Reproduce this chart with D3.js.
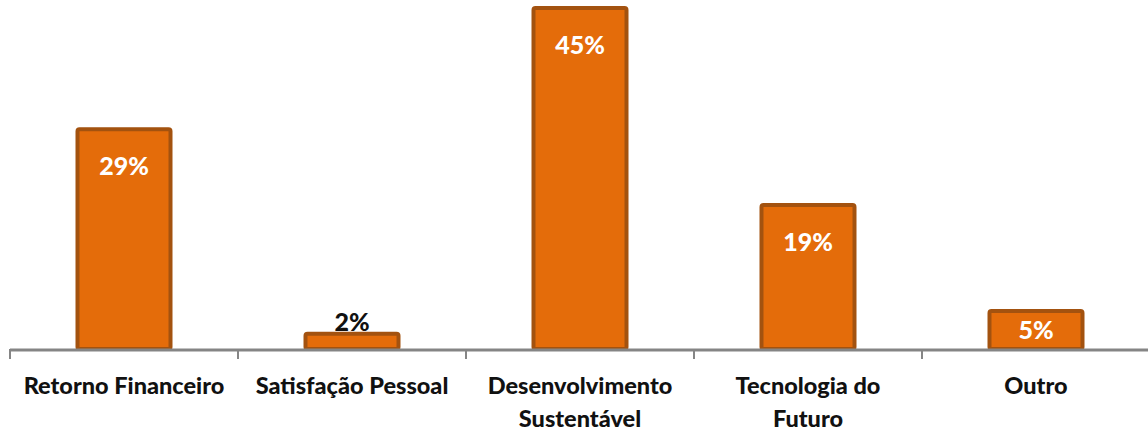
<!DOCTYPE html>
<html>
<head>
<meta charset="utf-8">
<script src="https://cdn.jsdelivr.net/npm/d3@7"></script>
<style>
  html, body { margin: 0; padding: 0; background: #ffffff; }
  svg { display: block; }
  text { font-family: Lato, "Open Sans", sans-serif; font-weight: 900; }
</style>
</head>
<body>
<svg id="chart" width="1148" height="432"></svg>
<script>
// Categories (each entry is the wrapped label lines)
const categories = ["Retorno Financeiro", "Satisfação Pessoal", "Desenvolvimento Sustentável", "Tecnologia do Futuro", "Outro"];
const categoryLines = [["Retorno Financeiro"], ["Satisfação Pessoal"], ["Desenvolvimento", "Sustentável"], ["Tecnologia do", "Futuro"], ["Outro"]];
const values = [29, 2, 45, 19, 5];
const valueLabels = ["29%", "2%", "45%", "19%", "5%"];

const width = 1148, height = 432;
const axisY = 349;
const fill = "#E46C0A", stroke = "#A3520F";

const svg = d3.select("#chart");

// Each category band is 228px wide; the axis runs past the right edge
const x = d3.scaleBand().domain(categories).range([10, 10 + 228 * categories.length]).paddingInner(0).paddingOuter(0);
const y = d3.scaleLinear().domain([0, 45]).range([axisY, 8]);

const barW = 93;

// Bars
svg.selectAll("rect.bar")
  .data(values)
  .join("rect")
  .attr("class", "bar")
  .attr("x", (d, i) => x(categories[i]) + x.bandwidth() / 2 - barW / 2)
  .attr("y", d => y(d))
  .attr("width", barW)
  .attr("height", d => axisY - y(d))
  .attr("rx", 2)
  .attr("fill", fill)
  .attr("stroke", stroke)
  .attr("stroke-width", 4);

// Category axis line and boundary ticks
svg.append("line")
  .attr("x1", x.range()[0]).attr("x2", width)
  .attr("y1", axisY + 1).attr("y2", axisY + 1)
  .attr("stroke", "#858585").attr("stroke-width", 3);

const bounds = categories.map(c => x(c)).concat([x.range()[1]]);
svg.selectAll("line.tick")
  .data(bounds)
  .join("line")
  .attr("class", "tick")
  .attr("x1", d => d).attr("x2", d => d)
  .attr("y1", axisY).attr("y2", axisY + 10)
  .attr("stroke", "#858585").attr("stroke-width", 2);

// Category labels
const labelG = svg.selectAll("text.cat")
  .data(categoryLines)
  .join("text")
  .attr("class", "cat")
  .attr("x", (d, i) => x(categories[i]) + x.bandwidth() / 2)
  .attr("y", 394)
  .attr("text-anchor", "middle")
  .attr("font-size", 23.5)
  .attr("fill", "#111");
labelG.selectAll("tspan")
  .data(d => d)
  .join("tspan")
  .attr("x", function () { return this.parentNode.getAttribute("x"); })
  .attr("dy", (d, j) => j === 0 ? 0 : 33)
  .text(d => d);

// Value labels: inside the bar near its top, centred in short bars, above very short ones
svg.selectAll("text.val")
  .data(values)
  .join("text")
  .attr("class", "val")
  .attr("x", (d, i) => x(categories[i]) + x.bandwidth() / 2)
  .attr("y", d => {
    const top = y(d), h = axisY - top;
    if (h < 25) return top - 3;
    return Math.min(top + 46, top + h / 2 + 9);
  })
  .attr("text-anchor", "middle")
  .attr("font-size", 25)
  .attr("fill", d => (axisY - y(d)) < 25 ? "#111" : "#ffffff")
  .text((d, i) => valueLabels[i]);
</script>
</body>
</html>
